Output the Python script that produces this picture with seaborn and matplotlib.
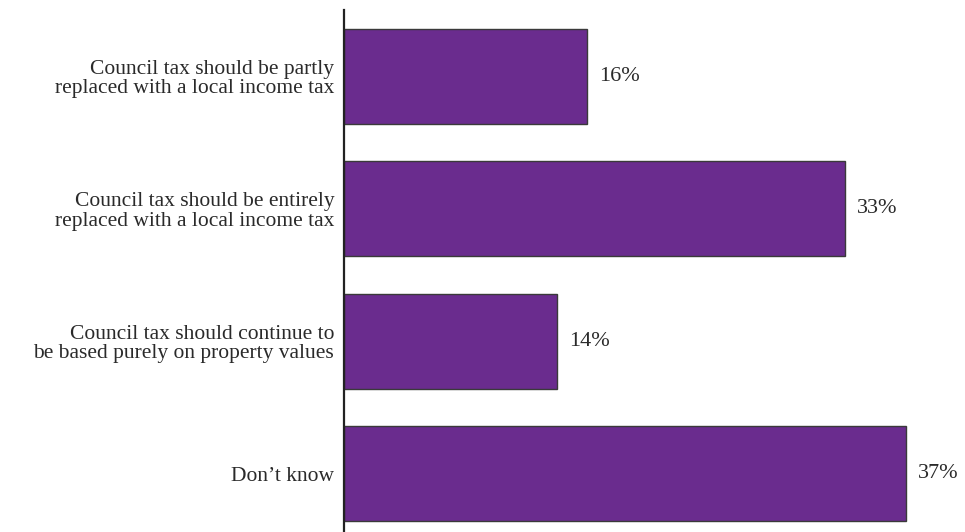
import matplotlib
matplotlib.use("Agg")
import matplotlib.pyplot as plt
import seaborn as sns
import pandas as pd

categories = [
    "Council tax should be partly\nreplaced with a local income tax",
    "Council tax should be entirely\nreplaced with a local income tax",
    "Council tax should continue to\nbe based purely on property values",
    "Don\u2019t know",
]
values = [16, 33, 14, 37]
value_labels = ["16%", "33%", "14%", "37%"]

sns.set_theme(style="white")
plt.rcParams["font.family"] = ["Liberation Serif", "DejaVu Serif"]

df = pd.DataFrame({"answer": categories, "share": values})

fig = plt.figure(figsize=(9.65, 5.32), dpi=100)
ax = fig.add_axes([344 / 965, 0, (965 - 344) / 965, 522 / 532])

sns.barplot(data=df, x="share", y="answer", orient="h", color="#6A2C8E",
            saturation=1, width=0.72, edgecolor="#3a3a3a", linewidth=1.0, ax=ax)

for i, (v, lab) in enumerate(zip(values, value_labels)):
    ax.text(v + 0.8, i, lab, va="center", ha="left", fontsize=16, color="#2a2a2a")

ax.set_xlim(0, 40.9)
ax.set_ylim(3.44, -0.5)
ax.set_xlabel("")
ax.set_ylabel("")
ax.set_xticks([])
ax.tick_params(axis="y", length=0, pad=7, labelsize=15.5, labelcolor="#2a2a2a")
for lab in ax.get_yticklabels():
    lab.set_horizontalalignment("right")
    lab.set_multialignment("right")
    lab.set_linespacing(1.05)
for side in ["top", "right", "bottom"]:
    ax.spines[side].set_visible(False)
ax.spines["left"].set_color("#222222")
ax.spines["left"].set_linewidth(1.6)

fig.savefig("out.png", dpi=100, facecolor="white")
